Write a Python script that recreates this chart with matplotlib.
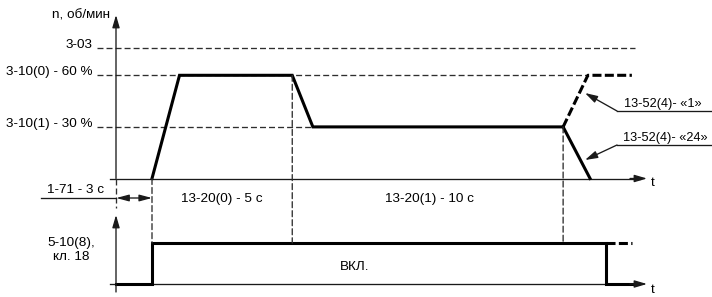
import matplotlib
matplotlib.use('Agg')
import matplotlib.pyplot as plt
from matplotlib.patches import ConnectionPatch

plt.rcParams['font.family'] = ['Liberation Sans', 'DejaVu Sans']
plt.rcParams['lines.scale_dashes'] = False

# speed levels, % (schematic)
speed_max = 76   # 3-03
speed_hi = 60    # 3-10(0)
speed_lo = 30    # 3-10(1)

# key moments on the time axis (schematic units, s)
t_delay = -1.3   # start of the 1-71 delay
t_run = 0.0
t_switch = 5.1   # 13-20(0) elapsed
t_stop = 14.95   # 13-20(1) elapsed
t_off = 16.5     # input 18 released

# speed profile
speed_t = [t_run, 1.0, t_switch, 5.85, t_stop]
speed_v = [0, speed_hi, speed_hi, speed_lo, speed_lo]
stop24_t = [t_stop, 15.93]
stop24_v = [speed_lo, 0]
stop1_t = [t_stop, 15.85, 17.45]
stop1_v = [speed_lo, speed_hi, speed_hi]

# input 5-10(8), terminal 18
sig_t = [t_delay, t_run, t_run, t_off, t_off, 17.65]
sig_v = [0, 0, 1, 1, 0, 0]
sig_ext_t = [t_off, 17.45]

labels_left = ['3-03', '3-10(0) - 60 %', '3-10(1) - 30 %']
levels_left = [speed_max, speed_hi, speed_lo]

# layout helpers (px -> data)
PX_T = 27.5
X0 = 152
def tx(px):
    return (px - X0) / PX_T

SP_PX = 1.72
Y0 = 178.5
def sy(py):
    return (Y0 - py) / SP_PX

SG_PX = 41
YB0 = 284
def gy(py):
    return (YB0 - py) / SG_PX

W, H = 712, 297
SPLIT = 210

fig = plt.figure(figsize=(7.12, 2.97), dpi=100)
ax = fig.add_axes([0, 1 - SPLIT / H, 1, SPLIT / H])
axb = fig.add_axes([0, 0, 1, (H - SPLIT) / H])
for a in (ax, axb):
    a.set_xlim(tx(0), tx(W))
    a.axis('off')
ax.set_ylim(sy(SPLIT), sy(0))
axb.set_ylim(gy(H), gy(SPLIT))

thin = '#1a1a1a'
dash_c = '#2e2e2e'
FS = 9.7
FS_CALL = 9.2
LW = 0.95
thin_dash = (0, (4.3, 2.2))
thick_dash = (0, (6.5, 2.4))


def arrow(a, start, end, style='-|>', hl=0.75, hw=0.22, lw=LW):
    a.annotate('', xy=end, xytext=start,
               arrowprops=dict(arrowstyle=f'{style},head_length={hl},head_width={hw}',
                               mutation_scale=10, lw=lw, color=thin,
                               shrinkA=0, shrinkB=0))

# ---- top: speed ----
ax.plot([tx(110), tx(640)], [0, 0], color=thin, lw=LW)
arrow(ax, (tx(630), 0), (tx(647), 0))
arrow(ax, (tx(116), 0), (tx(116), sy(15)))
ax.plot([tx(116), tx(116)], [0, sy(208)], color=dash_c, lw=LW, ls=thin_dash)

# reference levels
ax.plot([tx(97), tx(635)], [speed_max, speed_max], color=dash_c, lw=LW, ls=thin_dash)
ax.plot([tx(97), stop1_t[1]], [speed_hi, speed_hi], color=dash_c, lw=LW, ls=thin_dash)
ax.plot([tx(97), speed_t[3]], [speed_lo, speed_lo], color=dash_c, lw=LW, ls=thin_dash)
for lab, lev in zip(labels_left, levels_left):
    ax.text(tx(93), lev, lab, ha='right', va='baseline', fontsize=FS)
ax.text(tx(110), sy(15), 'n, об/мин', ha='right', va='center', fontsize=FS)

ax.plot(speed_t, speed_v, color='black', lw=2.2, solid_joinstyle='miter')
ax.plot(stop24_t, stop24_v, color='black', lw=2.2)
ax.plot(stop1_t, stop1_v, color='black', lw=2.2, ls=thick_dash)

ax.text(tx(651), sy(183), 't', ha='left', va='center', fontsize=FS)

# 1-71 delay
ax.plot([tx(41), t_delay], [sy(198), sy(198)], color=thin, lw=LW)
ax.text(tx(75), sy(193), '1-71 - 3 с', ha='center', va='baseline', fontsize=FS)
arrow(ax, (t_delay, sy(198)), (t_run, sy(198)), style='<|-|>', hl=0.75, hw=0.2)
ax.text(tx(222), sy(199), '13-20(0) - 5 с', ha='center', va='center', fontsize=FS)
ax.text(tx(429), sy(199), '13-20(1) - 10 с', ha='center', va='center', fontsize=FS)

# 13-52(4) callouts
ax.plot([tx(617), tx(W)], [sy(111), sy(111)], color=thin, lw=LW)
arrow(ax, (tx(617), sy(111)), (tx(585), sy(93)))
ax.text(tx(624), sy(107), '13-52(4)- «1»', ha='left', va='baseline', fontsize=FS_CALL)
ax.plot([tx(617), tx(W)], [sy(145), sy(145)], color=thin, lw=LW)
arrow(ax, (tx(617), sy(145)), (tx(585), sy(160)))
ax.text(tx(623), sy(141), '13-52(4)- «24»', ha='left', va='baseline', fontsize=FS_CALL)

# ---- bottom: input signal ----
axb.plot([tx(110), tx(640)], [0, 0], color=thin, lw=LW)
arrow(axb, (tx(630), 0), (tx(647), 0))
arrow(axb, (tx(116), gy(292)), (tx(116), gy(215)))
axb.plot(sig_t, sig_v, color='black', lw=2.2, solid_joinstyle='miter')
axb.plot(sig_ext_t, [1, 1], color='black', lw=2.2, ls=thick_dash)
axb.text(tx(71), gy(250), '5-10(8),\nкл. 18', ha='center', va='center',
         multialignment='center', fontsize=FS, linespacing=1.15)
axb.text(tx(355), gy(267), 'ВКЛ.', ha='center', va='center', fontsize=FS)
axb.text(tx(651), gy(290), 't', ha='left', va='center', fontsize=FS)

# vertical dashed guides linking both panels
for t0, v0 in [(t_run, 0), (t_switch, speed_hi), (t_stop, speed_lo)]:
    con = ConnectionPatch(xyA=(t0, v0), coordsA=ax.transData,
                          xyB=(t0, 1), coordsB=axb.transData,
                          color=dash_c, lw=LW, ls=thin_dash)
    fig.add_artist(con)

fig.savefig('out.png', dpi=100)
